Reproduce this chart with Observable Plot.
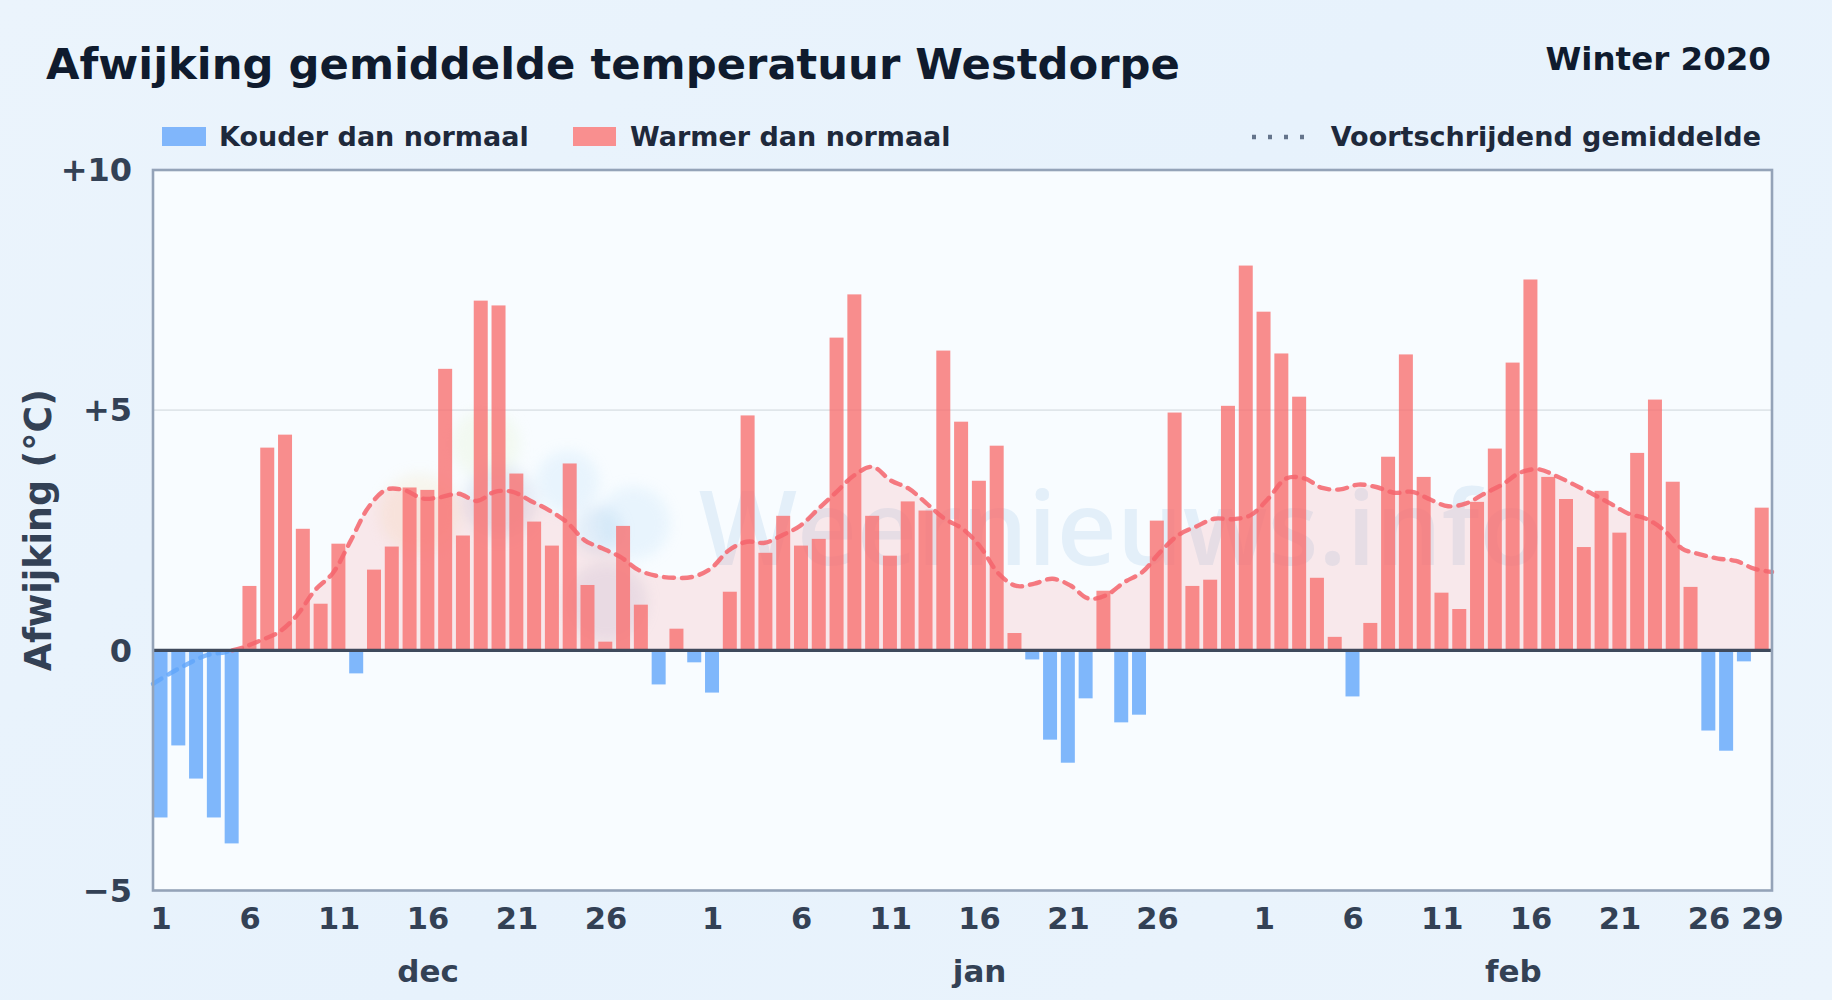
<!DOCTYPE html>
<html lang="nl">
<head>
<meta charset="utf-8">
<title>Afwijking gemiddelde temperatuur Westdorpe</title>
<script src="https://cdn.jsdelivr.net/npm/d3@7"></script>
<script src="https://cdn.jsdelivr.net/npm/@observablehq/plot@0.6"></script>
<style>
html,body{margin:0;padding:0;}
body{width:1832px;height:1000px;overflow:hidden;position:relative;background:linear-gradient(135deg,#ebf4fc 0%,#e7f2fc 50%,#ebf4fc 100%);font-family:"DejaVu Sans",sans-serif;font-weight:bold;}
.t{position:absolute;white-space:nowrap;line-height:1;}
.sw{position:absolute;}
#chart{position:absolute;left:0;top:150px;}
</style>
</head>
<body>
<div class="t" id="title" style="left:46px;top:43px;font-size:43.3px;color:#0f1b2e;">Afwijking gemiddelde temperatuur Westdorpe</div>
<div class="t" id="season" style="right:61px;top:42.5px;font-size:32.5px;color:#0f1b2e;">Winter 2020</div>
<div class="sw" style="left:162px;top:127px;width:44px;height:19px;background:#80b6fb;"></div>
<div class="t" style="left:219px;top:122.5px;font-size:27px;color:#1e293b;">Kouder dan normaal</div>
<div class="sw" style="left:573px;top:127px;width:43px;height:19px;background:#f98f8f;"></div>
<div class="t" style="left:630px;top:122.5px;font-size:27px;color:#1e293b;">Warmer dan normaal</div>
<svg class="sw" style="left:1250px;top:132px;" width="60" height="10"><line x1="2" x2="58" y1="5" y2="5" stroke="#64748b" stroke-width="4.4" stroke-dasharray="4 12"/></svg>
<div class="t" style="right:71px;top:122.5px;font-size:27px;color:#1e293b;">Voortschrijdend gemiddelde</div>
<div id="chart"></div>
<script>
// Afwijking per dag (°C): december, januari, februari
const dec = [-3.49,-1.99,-2.68,-3.49,-4.03,1.33,4.21,4.48,2.52,0.96,2.21,-0.49,1.67,2.15,3.38,3.33,5.85,2.38,7.27,7.17,3.67,2.67,2.17,3.88,1.35,0.17,2.58,0.94,-0.72,0.44,-0.26];
const jan = [-0.89,1.21,4.88,2.02,2.79,2.17,2.31,6.5,7.4,2.79,1.96,3.09,2.9,6.23,4.75,3.52,4.25,0.35,-0.2,-1.87,-2.35,-1.01,1.23,-1.51,-1.35,2.69,4.94,1.33,1.46,5.08,8.0];
const feb = [7.04,6.17,5.27,1.5,0.27,-0.97,0.56,4.02,6.15,3.6,1.19,0.85,3.08,4.19,5.98,7.71,3.6,3.14,2.14,3.31,2.44,4.1,5.21,3.5,1.31,-1.68,-2.1,-0.24,2.96];
// Voortschrijdend gemiddelde per dag
const movingAvg = [-0.70,-0.47,-0.27,-0.10,-0.04,0.06,0.21,0.38,0.73,1.25,1.61,2.29,2.99,3.35,3.33,3.16,3.19,3.26,3.11,3.30,3.30,3.11,2.92,2.67,2.29,2.12,1.94,1.67,1.55,1.51,1.53,1.70,2.08,2.26,2.24,2.40,2.60,2.95,3.30,3.65,3.82,3.54,3.37,3.06,2.74,2.53,2.15,1.60,1.34,1.39,1.49,1.35,1.08,1.15,1.42,1.63,2.05,2.40,2.58,2.74,2.73,2.81,3.16,3.58,3.58,3.38,3.35,3.45,3.40,3.28,3.30,3.14,3.00,3.06,3.26,3.45,3.70,3.77,3.63,3.45,3.26,3.06,2.85,2.74,2.50,2.12,2.00,1.91,1.86,1.70,1.63];
const dayTicks = [1,6,11,16,21,26];
const febExtraTick = 29;
const months = ["dec","jan","feb"];
const monthLengths = [31,31,29];
const monthLabelDay = [16,16,15];
const yTicks = [-5,0,5,10];
const yTickLabels = ["−5","0","+5","+10"];
// Vage watermerk-vlekken achter de grafiek (logo)
const logoX = [18.7,15,23.3,27,25,19.5,25.5];
const logoY = [4.3,2.85,3.5,2.65,2.5,3.1,1.0];
const logoR = [34,40,31,36,24,36,40];
const logoFill = ["#d9ecb0","#f6d79a","#9fd3f5","#9fd3f5","#7fb2e0","#8aa0c8","#9aa8cc"];

const values = [...dec,...jan,...feb];
const days = values.map((v,i)=>({i,v}));
const ratio = values.length/(movingAvg.length-1);
const avg = movingAvg.map((v,k)=>({x:k*ratio,v}));
const crossing = 4.4*ratio;
const avgBelow = [...avg.filter(d=>d.v<0),{x:crossing,v:0}];
const avgAbove = [{x:crossing,v:0},...avg.filter(d=>d.v>=0)];

const center = 0.46;
const tickLabel = new Map();
const allTicks = [];
let offset = 0;
const monthTicks = [];
const monthLabel = new Map();
months.forEach((m,mi)=>{
  const list = m==="feb" ? [...dayTicks,febExtraTick] : dayTicks;
  list.forEach(d=>{const t=offset+d-1+center; allTicks.push(t); tickLabel.set(t,String(d));});
  const mt = offset+monthLabelDay[mi]-1+center;
  monthTicks.push(mt); monthLabel.set(mt,m);
  offset += monthLengths[mi];
});
const yFmt = new Map(yTicks.map((t,i)=>[t,yTickLabels[i]]));

const chart = Plot.plot({
  width:1832,height:850,
  marginTop:19.5,marginBottom:110,marginLeft:152.5,marginRight:60.5,
  style:{fontFamily:"'DejaVu Sans',sans-serif",fontWeight:"bold",fontSize:"27px",background:"transparent",color:"#334155",overflow:"visible"},
  x:{type:"linear",domain:[0,values.length]},
  y:{type:"linear",domain:[-5,10]},
  r:{type:"identity"},
  marks:[
    Plot.frame({fill:"#f8fcff",stroke:"none"}),
    Plot.dot(logoX.map((x,i)=>({x,y:logoY[i],r:logoR[i],c:logoFill[i]})),{x:"x",y:"y",r:"r",fill:"c",fillOpacity:0.18,stroke:"none",imageFilter:"blur(7px)"}),
    Plot.text(["Weernieuws.info"],{x:()=>54.4,y:()=>1.77,text:d=>d,lineAnchor:"bottom",fontSize:104,fontWeight:600,fontFamily:"'Open Sans',sans-serif",fill:"#2f7bc0",fillOpacity:0.1}),
    Plot.ruleY([5],{stroke:"#e0e6ea",strokeWidth:1.6}),
    Plot.areaY(avgBelow,{x:"x",y1:()=>0,y2:"v",curve:"catmull-rom",fill:"#60a5fa",fillOpacity:0.12}),
    Plot.areaY(avgAbove,{x:"x",y1:()=>0,y2:"v",curve:"catmull-rom",fill:"#f87171",fillOpacity:0.14}),
    Plot.rect(days,{x1:"i",x2:d=>d.i+1,y1:()=>0,y2:"v",insetLeft:1,insetRight:2.8,fill:d=>d.v<0?"#60a5fa":"#f87171",fillOpacity:0.8}),
    Plot.line(avgBelow,{x:"x",y:"v",curve:"catmull-rom",stroke:"#60a5fa",strokeWidth:4.4,strokeOpacity:0.8,strokeDasharray:"10 8"}),
    Plot.line(avgAbove,{x:"x",y:"v",curve:"catmull-rom",stroke:"#f4646c",strokeWidth:4.4,strokeOpacity:0.85,strokeDasharray:"10 8"}),
    Plot.ruleY([0],{stroke:"#3f4a5c",strokeWidth:3.4}),
    Plot.frame({stroke:"#94a3b8",strokeWidth:2.6}),
    Plot.axisY({ticks:yTicks,tickFormat:t=>yFmt.get(t),tickSize:0,tickPadding:21,label:null,fontSize:32,dy:1,fill:"#334155"}),
    Plot.text(["Afwijking (°C)"],{frameAnchor:"left",textAnchor:"middle",rotate:-90,dx:-114,text:d=>d,fontSize:36.4,fill:"#334155"}),
    Plot.axisX({ticks:allTicks,tickFormat:t=>tickLabel.get(t),tickSize:0,tickPadding:17,label:null,fontSize:30.5,fill:"#334155"}),
    Plot.axisX({ticks:monthTicks,tickFormat:t=>monthLabel.get(t),tickSize:0,tickPadding:69,label:null,fontSize:31,fill:"#334155"})
  ]
});
document.getElementById("chart").appendChild(chart);
</script>
</body>
</html>
